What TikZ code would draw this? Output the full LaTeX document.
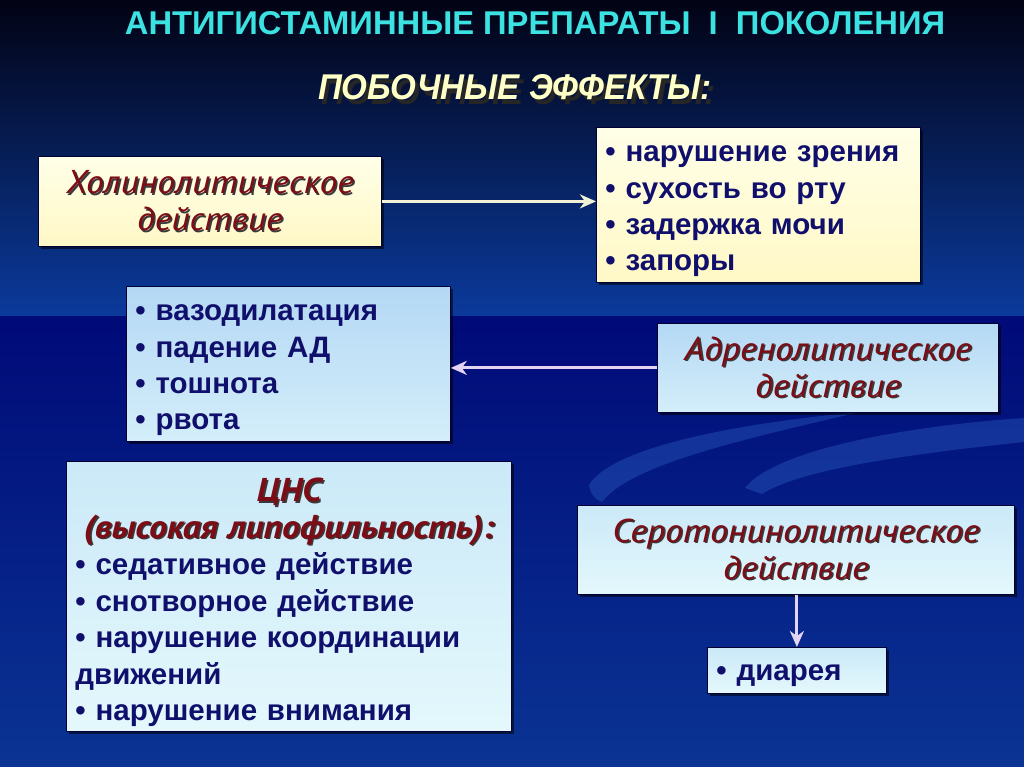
\documentclass[tikz,border=0pt]{standalone}
\usepackage{fontspec}
\setmainfont{Liberation Sans}
\newfontfamily\headfont[FakeStretch=1.08]{PT Sans}
\usepackage{graphicx}
\usetikzlibrary{arrows.meta,shadows}
\definecolor{bgA}{HTML}{020314}
\definecolor{bgM}{HTML}{061A5C}
\definecolor{bgB}{HTML}{0B3A9C}
\definecolor{bgC}{HTML}{000A78}
\definecolor{bgD}{HTML}{0A3494}
\definecolor{swoosh}{HTML}{2A5CC0}
\definecolor{titlecyan}{HTML}{3CE2E2}
\definecolor{subcream}{HTML}{FFFFC8}
\definecolor{headred}{HTML}{7C0C16}
\definecolor{navytext}{HTML}{10106C}
\definecolor{shadowgray}{HTML}{3A3A3A}
\definecolor{creamT}{HTML}{FFFFE8}
\definecolor{creamB}{HTML}{FFF8C6}
\definecolor{blueT}{HTML}{B4D8F4}
\definecolor{blueB}{HTML}{D4EEFA}
\definecolor{cyanT}{HTML}{CBE9F8}
\definecolor{cyanB}{HTML}{E4F8FC}
\definecolor{arrcream}{HTML}{F2F2D6}
\definecolor{arrlav}{HTML}{E2D4F2}
\newcommand\shd[1]{\leavevmode\rlap{\kern1.6pt\raisebox{-1.6pt}{\textcolor{shadowgray}{#1}}}#1}
\newcommand\headsize{\headfont\itshape\fontsize{33}{37}\selectfont}
\tikzset{
  panel/.style={draw=black!80!blue, line width=0.8pt, anchor=north west, inner xsep=9pt, inner ysep=0pt,
    drop shadow={shadow xshift=2.5pt, shadow yshift=-2.5pt, fill=black, opacity=0.55}},
  creambox/.style={panel, top color=creamT, bottom color=creamB},
  bluebox/.style={panel, top color=blueT, bottom color=blueB},
  cyanbox/.style={panel, top color=cyanT, bottom color=cyanB},
  headtext/.style={align=center, text=headred, font=\headsize},
  listtext/.style={align=left, text=navytext, font=\bfseries\fontsize{29.5}{36.3}\selectfont},
  arrowline/.style={line width=3pt, -{Stealth[length=16pt, width=14pt, inset=5pt]}},
}
\begin{document}
\begin{tikzpicture}[x=1pt,y=-1pt]
\useasboundingbox (0,0) rectangle (1024,767);
% background
\shade[top color=bgA, middle color=bgM, bottom color=bgB] (0,0) rectangle (1024,316);
\shade[top color=bgC, bottom color=bgD] (0,316) rectangle (1024,767);
\fill[swoosh, opacity=0.42] (589,485) .. controls (610,450) and (720,425) .. (860,412)
   .. controls (740,440) and (630,465) .. (602,502) .. controls (596,500) and (590,494) .. (589,485) -- cycle;
\fill[swoosh, opacity=0.42] (745,488) .. controls (770,455) and (880,428) .. (1024,418)
   -- (1024,442) .. controls (900,455) and (800,470) .. (762,494) -- cycle;
% titles
\node[anchor=base, text=titlecyan, font=\bfseries, inner sep=0] (title) at (535,35)
  {\resizebox{820pt}{23pt}{АНТИГИСТАМИННЫЕ ПРЕПАРАТЫ\ \ I\ \ ПОКОЛЕНИЯ}};
\node[anchor=base, text=subcream, font=\bfseries\itshape, inner sep=0] (subtitle) at (515,100)
  {\resizebox{394pt}{25pt}{\rlap{\kern1.2pt\raisebox{-1.2pt}{\textcolor{black!85}{ПОБОЧНЫЕ ЭФФЕКТЫ:}}}ПОБОЧНЫЕ ЭФФЕКТЫ:}};
% boxes
\node[creambox, headtext, minimum width=343, minimum height=90] (chol) at (38,156)
  {\shd{Холинолитическое}\\\shd{действие}};
\node[creambox, listtext, minimum width=324, minimum height=155, text width=306] (cholfx) at (596,127)
  {\rule{0pt}{29pt}• нарушение зрения\\• сухость во рту\\• задержка мочи\\• запоры};
\node[bluebox, listtext, minimum width=324, minimum height=155, text width=306] (vaso) at (126,286)
  {\rule{0pt}{29pt}• вазодилатация\\• падение АД\\• тошнота\\• рвота};
\node[bluebox, headtext, minimum width=341, minimum height=89] (adr) at (657,323)
  {\shd{Адренолитическое}\\\shd{действие}};
\node[cyanbox, listtext, minimum width=445, minimum height=270, text width=427,
      font=\bfseries\fontsize{29.5}{36.5}\selectfont] (cns) at (66,461)
  {\rule{0pt}{36pt}\hfill{\headsize\textcolor{headred}{\shd{ЦНС}}}\hfill\null\\
   \hfill{\headsize\textcolor{headred}{\shd{(высокая липофильность):}}}\hfill\null\\
   • седативное действие\\• снотворное действие\\• нарушение координации\\движений\\• нарушение внимания};
\node[cyanbox, headtext, minimum width=437, minimum height=89] (sero) at (577,505)
  {\shd{Серотонинолитическое}\\\shd{действие}};
\node[cyanbox, listtext, minimum width=179, minimum height=46, text width=161] (diar) at (707,647)
  {\rule{0pt}{27pt}• диарея};
% connectors
\draw[arrowline, draw=arrcream, fill=arrcream] (chol.east) -- (chol.east -| cholfx.west);
\draw[arrowline, draw=arrlav, fill=arrlav] (adr.west) -- (adr.west -| vaso.east);
\draw[arrowline, draw=arrlav, fill=arrlav] (diar.north |- sero.south) -- (diar.north);
\end{tikzpicture}
\end{document}
